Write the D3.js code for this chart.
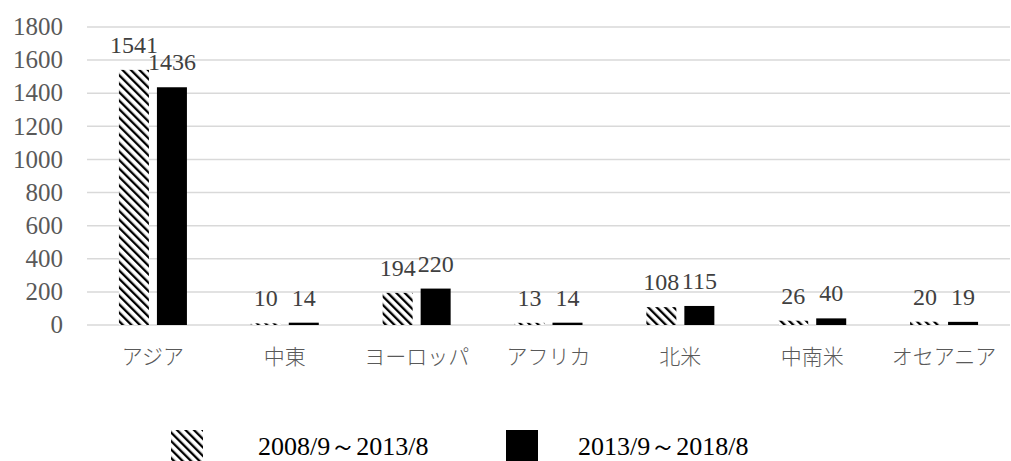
<!DOCTYPE html>
<html>
<head>
  <meta charset="utf-8">
  <script src="https://d3js.org/d3.v7.min.js"></script>
</head>
<style>
  body { margin: 0; background: #fff; }
  svg { display: block; }
  .tick-label { font-family: "Liberation Serif", "DejaVu Serif", serif; font-size: 25px; fill: #595959; }
  .cat-label { font-family: "Noto Sans CJK JP", sans-serif; font-size: 21px; fill: #595959; font-weight: 300; }
  .val-label { font-family: "Liberation Serif", "DejaVu Serif", serif; font-size: 24px; fill: #404040; text-anchor: middle; }
  .legend-text { font-family: "Liberation Serif", "DejaVu Serif", serif; font-size: 26px; fill: #000; }
</style>
<body>
  <svg id="chart" width="1011" height="461"></svg>
  <script>
    const regions = ["アジア", "中東", "ヨーロッパ", "アフリカ", "北米", "中南米", "オセアニア"];
    const period1 = [1541, 10, 194, 13, 108, 26, 20];
    const period2 = [1436, 14, 220, 14, 115, 40, 19];
    const seriesNames = ["2008/9～2013/8", "2013/9～2018/8"];
    const yTicks = [0, 200, 400, 600, 800, 1000, 1200, 1400, 1600, 1800];

    const svg = d3.select("#chart");
    const plot = { left: 87, right: 1010, top: 27, bottom: 325 };

    // hatch pattern for the first period
    const defs = svg.append("defs");
    defs.append("pattern")
      .attr("id", "hatch")
      .attr("patternUnits", "userSpaceOnUse")
      .attr("width", 6).attr("height", 6)
      .attr("patternTransform", "rotate(-45)")
      .call(p => {
        p.append("rect").attr("width", 6).attr("height", 6).attr("fill", "#fff");
        p.append("rect").attr("x", 0).attr("width", 2.3).attr("height", 6).attr("fill", "#000");
      });

    const x = d3.scaleBand().domain(regions).range([plot.left, plot.right]);
    const y = d3.scaleLinear().domain([0, 1800]).range([plot.bottom, plot.top]);

    // gridlines
    svg.append("g").selectAll("line")
      .data(yTicks)
      .join("line")
      .attr("x1", plot.left).attr("x2", plot.right)
      .attr("y1", d => y(d)).attr("y2", d => y(d))
      .attr("stroke", "#d9d9d9").attr("stroke-width", 1.5);

    svg.append("g").selectAll("text")
      .data(yTicks)
      .join("text")
      .attr("class", "tick-label")
      .attr("x", 63).attr("y", d => y(d))
      .attr("dy", "0.33em")
      .attr("text-anchor", "end")
      .text(d => d);

    const barW = 30, gap = 8;
    const series = [
      { values: period1, fill: "url(#hatch)", offset: -(barW + gap) / 2 },
      { values: period2, fill: "#000", offset: (barW + gap) / 2 }
    ];

    series.forEach(s => {
      const g = svg.append("g");
      g.selectAll("rect")
        .data(s.values)
        .join("rect")
        .attr("x", (d, i) => x(regions[i]) + x.bandwidth() / 2 + s.offset - barW / 2)
        .attr("y", d => y(d))
        .attr("width", barW)
        .attr("height", d => plot.bottom - y(d))
        .attr("fill", s.fill);

      g.selectAll("text")
        .data(s.values)
        .join("text")
        .attr("class", "val-label")
        .attr("x", (d, i) => x(regions[i]) + x.bandwidth() / 2 + s.offset)
        .attr("y", d => y(d) - 17)
        .text(d => d);
    });

    svg.append("g").selectAll("text")
      .data(regions)
      .join("text")
      .attr("class", "cat-label")
      .attr("x", d => x(d) + x.bandwidth() / 2)
      .attr("y", 364)
      .attr("text-anchor", "middle")
      .text(d => d);

    // legend
    const legend = [
      { name: seriesNames[0], fill: "url(#hatch)", bx: 171, tx: 258 },
      { name: seriesNames[1], fill: "#000", bx: 506, tx: 578 }
    ];
    legend.forEach(l => {
      svg.append("rect")
        .attr("x", l.bx).attr("y", 430)
        .attr("width", 32).attr("height", 31)
        .attr("fill", l.fill);
      svg.append("text")
        .attr("class", "legend-text")
        .attr("x", l.tx).attr("y", 455)
        .text(l.name);
    });
  </script>
</body>
</html>
